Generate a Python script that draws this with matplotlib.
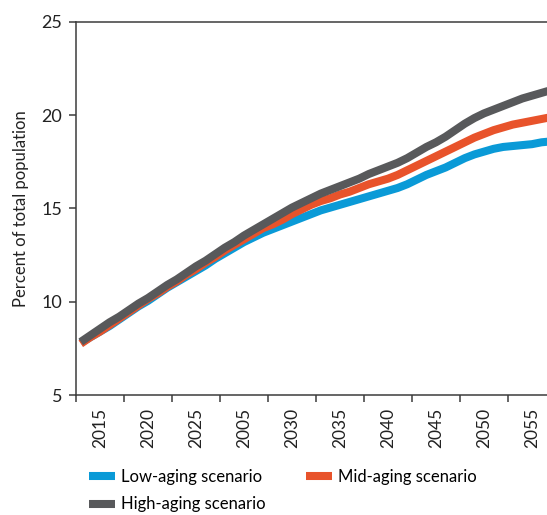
import numpy as np
from matplotlib import pyplot as plt

plt.rcParams['font.family'] = ['Lato', 'DejaVu Sans']

years = np.arange(2011, 2061)

low = [7.8, 8.1, 8.4, 8.7, 9.05, 9.4, 9.75, 10.05, 10.4, 10.75,
       11.05, 11.35, 11.65, 11.95, 12.3, 12.6, 12.9, 13.2, 13.45, 13.7,
       13.9, 14.1, 14.3, 14.5, 14.7, 14.9, 15.05, 15.2, 15.35, 15.5,
       15.65, 15.8, 15.95, 16.1, 16.3, 16.55, 16.8, 17.0, 17.2, 17.45,
       17.7, 17.9, 18.05, 18.2, 18.3, 18.35, 18.4, 18.45, 18.55, 18.6]

mid = [7.75, 8.1, 8.4, 8.75, 9.1, 9.45, 9.8, 10.15, 10.45, 10.8,
       11.1, 11.45, 11.75, 12.1, 12.4, 12.75, 13.05, 13.35, 13.65, 13.95,
       14.15, 14.4, 14.7, 14.95, 15.2, 15.4, 15.55, 15.75, 15.9, 16.1,
       16.3, 16.45, 16.6, 16.8, 17.05, 17.3, 17.55, 17.8, 18.05, 18.3,
       18.55, 18.8, 19.0, 19.2, 19.35, 19.5, 19.6, 19.7, 19.8, 19.9]

high = [7.85, 8.2, 8.55, 8.9, 9.2, 9.55, 9.9, 10.2, 10.55, 10.9,
        11.2, 11.55, 11.9, 12.2, 12.55, 12.9, 13.2, 13.55, 13.85, 14.15,
        14.45, 14.75, 15.05, 15.3, 15.55, 15.8, 16.0, 16.2, 16.4, 16.6,
        16.85, 17.05, 17.25, 17.45, 17.7, 18.0, 18.3, 18.55, 18.85, 19.2,
        19.55, 19.85, 20.1, 20.3, 20.5, 20.7, 20.9, 21.05, 21.2, 21.35]

# tick labels as printed in the source (including its "2005")
tick_labels = ['2015', '2020', '2025', '2005', '2030',
               '2035', '2040', '2045', '2050', '2055']

c_low = '#0a9ad7'
c_mid = '#e8532b'
c_high = '#58595b'
axis_c = '#3c3c3c'

fig = plt.figure(figsize=(5.47, 5.15), dpi=100)
ax = fig.add_axes([76/547, 1 - 395/515, 480/547, 373/515])

lw = 5.8
l_low, = ax.plot(years, low, color=c_low, lw=lw, solid_capstyle='butt', label='Low-aging scenario')
l_mid, = ax.plot(years, mid, color=c_mid, lw=lw, solid_capstyle='butt', label='Mid-aging scenario')
l_high, = ax.plot(years, high, color=c_high, lw=lw, solid_capstyle='butt', label='High-aging scenario')

ax.set_xlim(2010.5, 2060.5)
ax.set_ylim(5, 25)
ax.set_yticks([5, 10, 15, 20, 25])

edges = np.arange(2010.5, 2060, 5)
ax.set_xticks(edges)
ax.set_xticklabels([])
ax.set_xticks(edges + 2.5, minor=True)
ax.set_xticklabels(tick_labels, minor=True, rotation=90)
ax.tick_params(axis='x', which='minor', length=0, pad=9, labelsize=12.5, labelcolor='#222222')
ax.tick_params(axis='x', which='major', length=5, width=1.1, color=axis_c)
ax.tick_params(axis='y', length=5, width=1.1, color=axis_c, pad=5, labelsize=13, labelcolor='#222222')

for s in ax.spines.values():
    s.set_color(axis_c)
    s.set_linewidth(1.1)

ax.set_ylabel('Percent of total population', fontsize=12, color='#222222', labelpad=9)

fig.legend(handles=[l_low, l_high, l_mid], loc='upper left',
           bbox_to_anchor=(82/547, 1 - 462/515), ncol=2, frameon=False,
           fontsize=12, handlelength=1.6, handletextpad=0.35,
           columnspacing=2.4, labelspacing=0.7, borderaxespad=0)

fig.savefig('out.png', dpi=100)
